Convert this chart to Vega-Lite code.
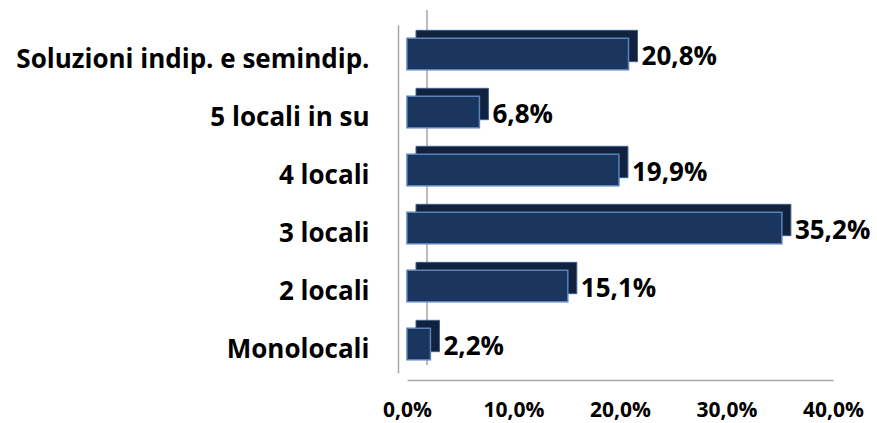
{
  "$schema": "https://vega.github.io/schema/vega-lite/v6.json",
  "width": 426,
  "height": 348,
  "padding": {"left": 407, "top": 25, "right": 44, "bottom": 50},
  "autosize": {"type": "none"},
  "background": "white",
  "config": {"view": {"stroke": null}, "font": "Open Sans"},
  "data": {"values": [
    {"cat": "Soluzioni indip. e semindip.", "v": 20.8, "label": "20,8%"},
    {"cat": "5 locali in su", "v": 6.8, "label": "6,8%"},
    {"cat": "4 locali", "v": 19.9, "label": "19,9%"},
    {"cat": "3 locali", "v": 35.2, "label": "35,2%"},
    {"cat": "2 locali", "v": 15.1, "label": "15,1%"},
    {"cat": "Monolocali", "v": 2.2, "label": "2,2%"}
  ]},
  "encoding": {
    "y": {"field": "cat", "type": "nominal", "sort": null,
      "scale": {"paddingInner": 0.46, "paddingOuter": 0.23},
      "axis": {"title": null, "ticks": false, "domain": true, "domainColor": "#a6a6a6", "domainWidth": 1.5, "offset": 9,
        "labelFont": "Open Sans", "labelFontWeight": "bold", "labelFontSize": 26, "labelColor": "#000000", "labelPadding": 29, "labelLimit": 420, "labelOffset": 6}},
    "x": {"field": "v", "type": "quantitative",
      "scale": {"domain": [0, 40]},
      "axis": {"title": null, "ticks": false, "grid": false, "domainColor": "#a6a6a6", "domainWidth": 1.5, "offset": 7,
        "values": [0, 10, 20, 30, 40], "labelDx": -10, "labelPadding": 19,
        "labelExpr": "replace(format(datum.value, '.1f'), '.', ',') + '%'",
        "labelFont": "Open Sans", "labelFontWeight": "bold", "labelFontSize": 21, "labelColor": "#000000", "labelFlush": false}}
  },
  "layer": [
    {"mark": {"type": "rule", "color": "#a6a6a6", "strokeWidth": 1.5, "xOffset": 20, "y": -15, "y2": 340},
     "data": {"values": [{"z": 0}]},
     "encoding": {"x": {"field": "z", "type": "quantitative"}, "y": null}},
    {"mark": {"type": "bar", "color": "#10223d", "stroke": "#3d6090", "strokeWidth": 1, "xOffset": 9, "yOffset": -8}},
    {"mark": {"type": "bar", "color": "#1a365f", "stroke": "#5a82b8", "strokeWidth": 1.5}},
    {"mark": {"type": "text", "align": "left", "baseline": "middle", "dx": 13, "dy": 3, "fontSize": 26, "fontWeight": "bold", "font": "Open Sans", "color": "#000000"},
     "encoding": {"text": {"field": "label"}}}
  ]
}
